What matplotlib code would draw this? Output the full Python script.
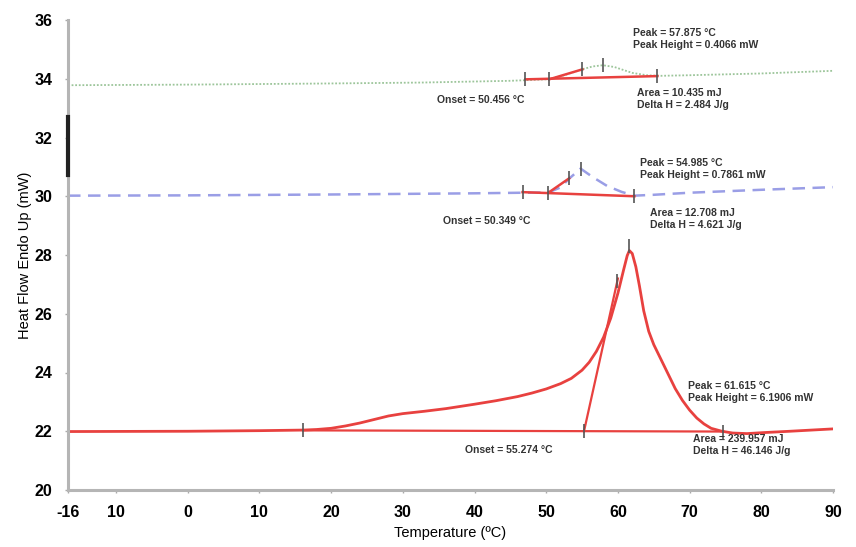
import matplotlib
matplotlib.use("Agg")
import matplotlib.pyplot as plt

plt.rcParams['font.family'] = ['Liberation Sans', 'DejaVu Sans']

# x range and tick labels as printed on the original
x_min, x_max = -16.7, 90
x_ticks = [-16.7, -10, 0, 10, 20, 30, 40, 50, 60, 70, 80, 90]
x_tick_labels = ["-16", "10", "0", "10", "20", "30", "40", "50", "60", "70", "80", "90"]
y_ticks = [20, 22, 24, 26, 28, 30, 32, 34, 36]

# top curve (green, dotted)
green_t = [-16.7, 0, 20, 32.5, 45, 50, 52, 55, 56.5, 57.9, 59.5, 62, 64, 66, 70, 80, 90]
green_hf = [33.78, 33.80, 33.84, 33.87, 33.93, 33.98, 34.08, 34.32, 34.42, 34.46,
            34.40, 34.20, 34.12, 34.10, 34.12, 34.18, 34.27]
green_base_t = [47.1, 65.5]
green_base_hf = [33.98, 34.09]
green_tan_t = [50.4, 55.05]
green_tan_hf = [33.98, 34.32]
green_mark_t = [47.1, 50.4, 55.05, 57.9, 65.5]
green_mark_hf = [33.98, 33.98, 34.32, 34.47, 34.09]

# middle curve (blue, dashed)
blue_t = [-16.7, 0, 20, 40, 46.7, 50.3, 52, 53.2, 54.8, 56.5, 58.5, 60.5, 62.3, 65, 70, 80, 90]
blue_hf = [30.02, 30.03, 30.06, 30.10, 30.12, 30.13, 30.30, 30.60, 30.94, 30.65,
           30.35, 30.15, 30.02, 30.05, 30.12, 30.22, 30.31]
blue_base_t = [46.7, 62.3]
blue_base_hf = [30.14, 30.00]
blue_tan_t = [50.3, 53.2]
blue_tan_hf = [30.12, 30.61]
blue_mark_t = [46.7, 50.3, 53.2, 54.8, 62.3]
blue_mark_hf = [30.14, 30.12, 30.61, 30.94, 30.00]

# bottom curve (red, solid)
red_t = [-16.7, 0, 10, 16.1, 18, 20, 22, 24, 26, 28, 30, 33, 36, 40, 43, 46, 48, 50,
         52, 53.5, 55, 56, 57, 58, 59, 60, 60.8, 61.3, 61.6, 62, 62.5, 63, 63.6, 64.3,
         65, 66, 67, 68, 69, 70, 71, 72, 73, 74.5, 76, 78, 80, 84, 90]
red_hf = [21.99, 22.0, 22.02, 22.04, 22.06, 22.1, 22.18, 22.28, 22.4, 22.52, 22.6,
          22.68, 22.77, 22.92, 23.04, 23.18, 23.3, 23.44, 23.62, 23.8, 24.08, 24.35,
          24.72, 25.2, 25.85, 26.7, 27.5, 27.98, 28.15, 28.05, 27.6, 26.95, 26.1, 25.4,
          24.95, 24.45, 23.95, 23.45, 23.05, 22.72, 22.45, 22.25, 22.1, 22.0, 21.94,
          21.92, 21.95, 22.0, 22.08]
red_base_t = [16.1, 74.7]
red_base_hf = [22.03, 21.99]
red_tan_t = [55.27, 60.0]
red_tan_hf = [22.0, 27.2]
red_mark_t = [16.1, 55.27, 59.9, 61.6, 74.7]
red_mark_hf = [22.04, 22.0, 27.1, 28.3, 21.99]

annotations = [
    ("Peak = 57.875 °C\nPeak Height = 0.4066 mW", 633, 39),
    ("Area = 10.435 mJ\nDelta H = 2.484 J/g", 637, 99),
    ("Onset = 50.456 °C", 437, 100),
    ("Peak = 54.985 °C\nPeak Height = 0.7861 mW", 640, 169),
    ("Area = 12.708 mJ\nDelta H = 4.621 J/g", 650, 219),
    ("Onset = 50.349 °C", 443, 221),
    ("Peak = 61.615 °C\nPeak Height = 6.1906 mW", 688, 392),
    ("Area = 239.957 mJ\nDelta H = 46.146 J/g", 693, 445),
    ("Onset = 55.274 °C", 465, 450),
]

W, H = 856, 547
fig = plt.figure(figsize=(W / 100, H / 100), dpi=100)
ax = fig.add_axes([68 / W, 1 - 490 / H, 765 / W, 470 / H])

red = '#e8413f'
mark = '#555555'

ax.plot(green_t, green_hf, color='#9cc59a', lw=1.3, ls=(0, (1, 1)))
ax.plot(green_base_t, green_base_hf, color=red, lw=1.8)
ax.plot(green_tan_t, green_tan_hf, color=red, lw=1.8)
ax.plot(green_mark_t, green_mark_hf, ls='none', marker='|', ms=10, mew=1.2, color=mark)

ax.plot(blue_t, blue_hf, color='#9a9ee6', lw=1.8, ls=(0, (5, 3)))
ax.plot(blue_base_t, blue_base_hf, color=red, lw=1.8)
ax.plot(blue_tan_t, blue_tan_hf, color=red, lw=1.8)
ax.plot(blue_mark_t, blue_mark_hf, ls='none', marker='|', ms=10, mew=1.2, color=mark)

ax.plot(red_t, red_hf, color=red, lw=2.0)
ax.plot(red_base_t, red_base_hf, color=red, lw=1.6)
ax.plot(red_tan_t, red_tan_hf, color=red, lw=1.6)
ax.plot(red_mark_t, red_mark_hf, ls='none', marker='|', ms=10, mew=1.2, color=mark)

# scale bar on the y axis
ax.plot([x_min, x_min], [30.72, 32.70], color='#222222', lw=3, clip_on=False, zorder=5)

for txt, px, py in annotations:
    fig.text(px / W, 1 - py / H, txt, fontsize=7.5, fontweight='bold', color='#333333',
             ha='left', va='center', linespacing=1.3)

ax.set_xlim(x_min, x_max)
ax.set_ylim(20, 36)
ax.set_xticks(x_ticks)
ax.set_xticklabels(x_tick_labels)
ax.set_yticks(y_ticks)
ax.tick_params(axis='both', length=2, width=1, color='#aaaaaa', labelsize=11.5, pad=9)
for lab in ax.get_xticklabels() + ax.get_yticklabels():
    lab.set_fontweight('bold')
for s in ['top', 'right']:
    ax.spines[s].set_visible(False)
for s in ['left', 'bottom']:
    ax.spines[s].set_color('#b5b5b5')
    ax.spines[s].set_linewidth(2.2)

ax.set_xlabel('Temperature (ºC)', fontsize=10.5, labelpad=4)
ax.set_ylabel('Heat Flow Endo Up (mW)', fontsize=10.5, labelpad=2)

fig.savefig('out.png', dpi=100)
